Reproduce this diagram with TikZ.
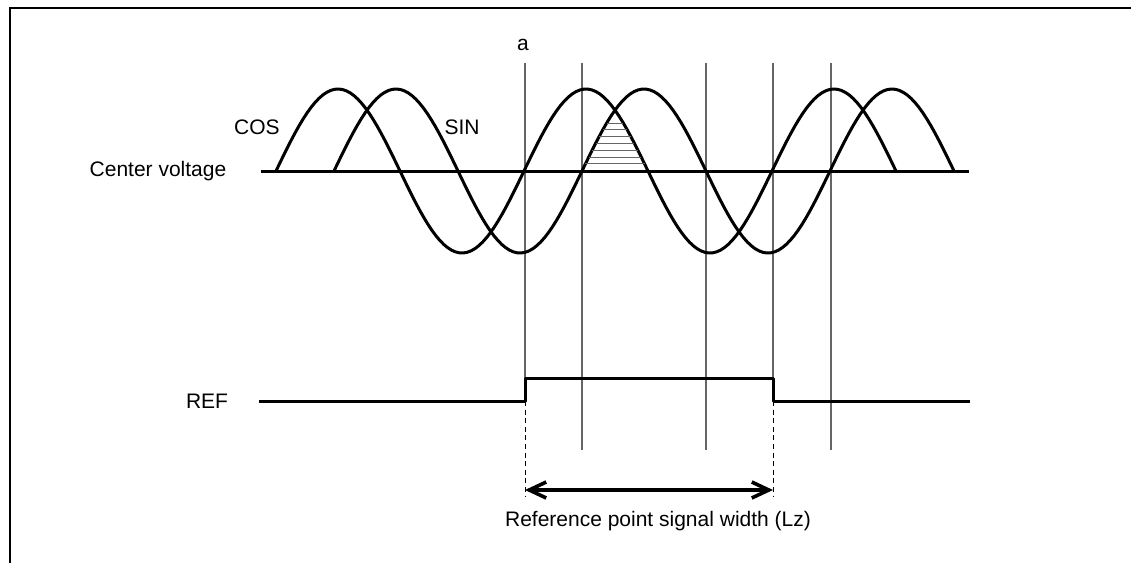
\documentclass[tikz,border=0pt]{standalone}
\usepackage{fontspec}
\setmainfont{Liberation Sans}
\usetikzlibrary{arrows.meta}
\begin{document}
\begin{tikzpicture}[>={Straight Barb[length=8.5pt,width=8pt]}, x=0.5pt, y=-0.5pt,
		wave/.style={line width=1.5pt, line join=round},
		guide/.style={black!60, line width=0.6pt},
		hatch/.style={black!60, line width=0.5pt},
		dimline/.style={dash pattern=on 2.5pt off 1.8pt, line width=0.5pt},
		every node/.style={font=\fontsize{10.5}{12}\selectfont}]
	\useasboundingbox (0,0) rectangle (1131,563);
	% === 外框 ===
	\draw[line width=0.9pt] (10,563) -- (10,8) -- (1131,8);
	
	% === 竖直参考线 ===
	\foreach \gx in {582,706,831} \draw[guide] (\gx,63) -- (\gx,450);
	\draw[guide] (525,63) -- (525,378);
	\draw[guide] (773,63) -- (773,378);
	\node (lbla) at (523,45) {a};
	
	% === 上图：COS / SIN 信号 (周期 248) ===
	\node (lblcv) at (158,171) {Center voltage};
	\draw[wave] (261,171) -- (969,171);
	\draw[wave, domain=276:896, samples=160] plot (\x, {171-82*sin((\x-276)*1.451613)});
	\draw[wave, domain=334:954, samples=160] plot (\x, {171-82*sin((\x-334)*1.451613)});
	\node (lblcos) at (257,127) {COS};
	\node (lblsin) at (462,127) {SIN};
	
	% 阴影线 (两曲线之下)
	\foreach \hy in {123,129.8,136.6,143.4,150.2,157,163.8} {
		\pgfmathsetmacro\dx{asin((171-\hy)/82)/1.451613}
		\draw[hatch] (582+\dx,\hy) -- (648-\dx,\hy);
	}
	
	% === 下图：REF 信号 ===
	\node (lblref) at (207,401) {REF};
	\draw[wave] (259,401) -- (525,401) -- (525,378) -- (773,378) -- (773,401) -- (970,401);
	
	% 宽度标注
	\coordinate (wl) at (525,490);
	\coordinate (wr) at (773,490);
	\draw[dimline] (525,401) -- (525,497);
	\draw[dimline] (773,401) -- (773,497);
	\draw[<->, line width=1.8pt] (wl) -- (wr);
	\node (lblwidth) at (658,521) {Reference point signal width (Lz)};
\end{tikzpicture}
\end{document}
